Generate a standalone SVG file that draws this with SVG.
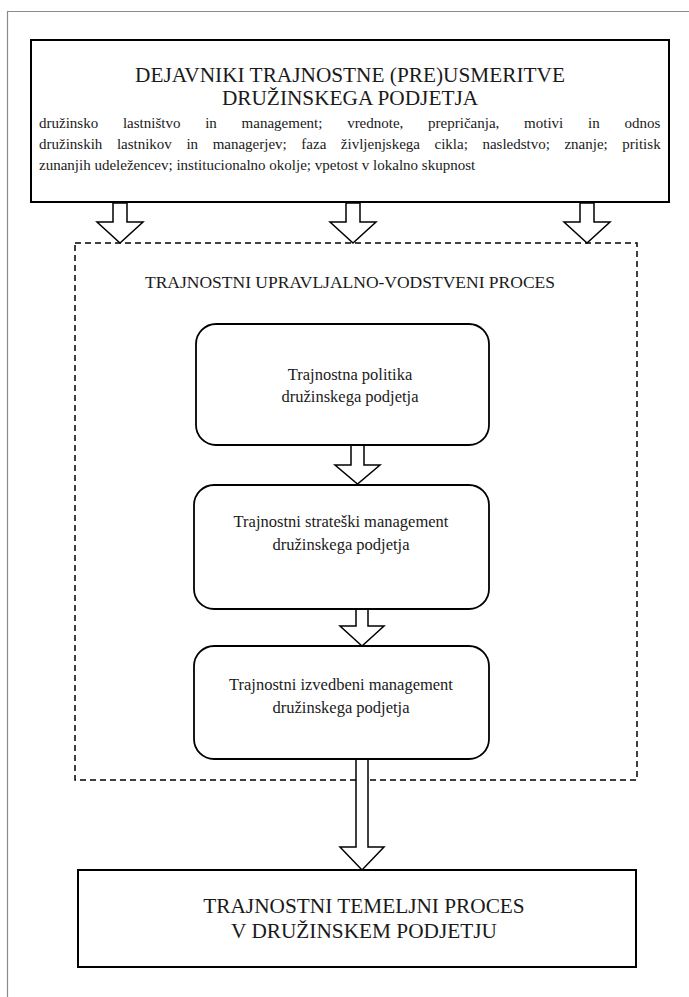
<svg xmlns="http://www.w3.org/2000/svg" width="689" height="997" viewBox="0 0 689 997">
<style>
text{font-family:"Liberation Serif","Times New Roman",serif;fill:#1a1a1a}
.box{fill:#fff;stroke:#000;stroke-width:2}
.rbox{fill:#fff;stroke:#000;stroke-width:1.8}
.arr{fill:#fff;stroke:#000;stroke-width:1.5;stroke-linejoin:miter}
.t1{font-size:21.3px;text-anchor:middle}
.t2{font-size:15px}
.t3{font-size:16.5px;text-anchor:middle}
.t4{font-size:17.5px;text-anchor:middle}
</style>
<rect width="689" height="997" fill="#fff"/>
<path d="M7.5 997 V11.5 H689" fill="none" stroke="#8a8a8a" stroke-width="1.2"/>
<g id="dashed-container">
<rect x="75" y="243" width="562" height="537" fill="none" stroke="#000" stroke-width="1.5" stroke-dasharray="6,4"/>
<text class="t4" x="350" y="288">TRAJNOSTNI UPRAVLJALNO-VODSTVENI PROCES</text>
</g>
<g id="connectors">
<polygon class="arr" points="113,203 127,203 127,222 143,222 120,243 97,222 113,222"/>
<polygon class="arr" points="346,203 360,203 360,222 376,222 353,243 330,222 346,222"/>
<polygon class="arr" points="580,203 594,203 594,222 610,222 587,243 564,222 580,222"/>
<polygon class="arr" points="351,445 364,445 364,465 380,465 357.5,484 335,465 351,465"/>
<polygon class="arr" points="356,609 368,609 368,626 384,626 362,646 340,626 356,626"/>
<polygon class="arr" points="356,759 368,759 368,847 384,847 362,870 340,847 356,847"/>
</g>
<g id="factors">
<rect class="box" x="31" y="40" width="638" height="162"/>
<text class="t1" x="350" y="82">DEJAVNIKI TRAJNOSTNE (PRE)USMERITVE</text>
<text class="t1" x="350" y="105">DRUŽINSKEGA PODJETJA</text>
<text class="t2" x="39" y="128" word-spacing="21">družinsko lastništvo in management; vrednote, prepričanja, motivi in odnos</text>
<text class="t2" x="39" y="149" word-spacing="10.8">družinskih lastnikov in managerjev; faza življenjskega cikla; nasledstvo; znanje; pritisk</text>
<text class="t2" x="39" y="170">zunanjih udeležencev; institucionalno okolje; vpetost v lokalno skupnost</text>
</g>
<g id="policy">
<rect class="rbox" x="196" y="324" width="293" height="121" rx="20"/>
<text class="t3" x="350" y="380">Trajnostna politika</text>
<text class="t3" x="350" y="402">družinskega podjetja</text>
</g>
<g id="strategic">
<rect class="rbox" x="194" y="485" width="295" height="124" rx="20"/>
<text class="t3" x="341" y="527">Trajnostni strateški management</text>
<text class="t3" x="341" y="550">družinskega podjetja</text>
</g>
<g id="operational">
<rect class="rbox" x="194" y="646" width="295" height="113" rx="20"/>
<text class="t3" x="341" y="690">Trajnostni izvedbeni management</text>
<text class="t3" x="341" y="713">družinskega podjetja</text>
</g>
<g id="core-process">
<rect class="box" x="78" y="870" width="558" height="97"/>
<text class="t1" x="364" y="913">TRAJNOSTNI TEMELJNI PROCES</text>
<text class="t1" x="364" y="938">V DRUŽINSKEM PODJETJU</text>
</g>
</svg>
